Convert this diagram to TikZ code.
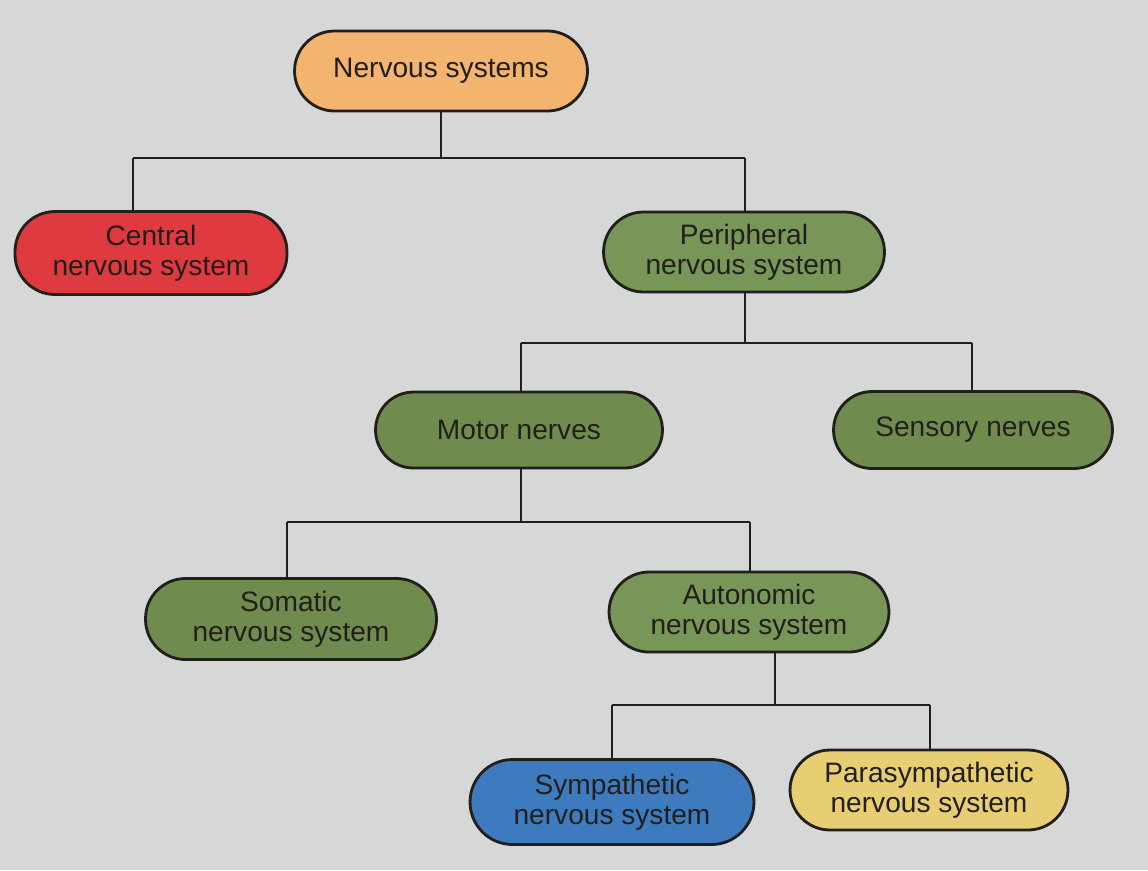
\documentclass[tikz,border=0pt]{standalone}
\usepackage{fontspec}
\setmainfont{Liberation Sans}
\definecolor{bg}{HTML}{D5D8D6}
\definecolor{orangebox}{HTML}{F2B46E}
\definecolor{redbox}{HTML}{DE3A40}
\definecolor{greenbox}{HTML}{6F8C4E}
\definecolor{greenlight}{HTML}{789657}
\definecolor{bluebox}{HTML}{3D7BBE}
\definecolor{yellowbox}{HTML}{E8CE72}
\definecolor{ink}{HTML}{221E1C}
\begin{document}
\begin{tikzpicture}[x=0.02cm,y=-0.02cm,
  pill/.style={draw=ink,line width=1.6pt,align=center,inner sep=0pt,
    font=\fontsize{16}{16.8}\selectfont,text=ink,
    minimum height=1.6cm,rounded corners=0.8cm},
  conn/.style={draw=ink,line width=1.3pt}]
\fill[bg] (0,0) rectangle (1148,870);
\useasboundingbox (0,0) rectangle (1148,870);
\node[pill,fill=orangebox,minimum width=5.86cm] (ns) at (441,71) {Nervous systems};
\node[pill,fill=redbox,minimum width=5.44cm,minimum height=1.66cm] (cns) at (151,253) {Central\\nervous system};
\node[pill,fill=greenlight,minimum width=5.62cm] (pns) at (744,252) {Peripheral\\nervous system};
\node[pill,fill=greenbox,minimum width=5.74cm,minimum height=1.52cm,rounded corners=0.76cm] (mot) at (519,430) {Motor nerves};
\node[pill,fill=greenbox,minimum width=5.58cm,minimum height=1.54cm,rounded corners=0.77cm] (sen) at (973,430) {Sensory nerves};
\node[pill,fill=greenbox,minimum width=5.82cm,minimum height=1.62cm] (som) at (291,619) {Somatic\\nervous system};
\node[pill,fill=greenlight,minimum width=5.6cm] (aut) at (749,612) {Autonomic\\nervous system};
\node[pill,fill=bluebox,minimum width=5.68cm,minimum height=1.7cm,rounded corners=0.85cm] (sym) at (612,802) {Sympathetic\\nervous system};
\node[pill,fill=yellowbox,minimum width=5.56cm] (par) at (929,790) {Parasympathetic\\nervous system};
% level 1
\coordinate (j1) at (441,158);
\coordinate (j1l) at (133,158);
\coordinate (j1r) at (745,158);
\draw[conn] (ns.south) -- (j1);
\draw[conn] (j1l) -- (j1r);
\draw[conn] (j1l) -- (j1l |- cns.north);
\draw[conn] (j1r) -- (j1r |- pns.north);
% level 2
\coordinate (j2) at (745,343);
\coordinate (j2l) at (521,343);
\coordinate (j2r) at (972,343);
\draw[conn] (j2 |- pns.south) -- (j2);
\draw[conn] (j2l) -- (j2r);
\draw[conn] (j2l) -- (j2l |- mot.north);
\draw[conn] (j2r) -- (j2r |- sen.north);
% level 3
\coordinate (j3) at (521,522);
\coordinate (j3l) at (287,522);
\coordinate (j3r) at (750,522);
\draw[conn] (j3 |- mot.south) -- (j3);
\draw[conn] (j3l) -- (j3r);
\draw[conn] (j3l) -- (j3l |- som.north);
\draw[conn] (j3r) -- (j3r |- aut.north);
% level 4
\coordinate (j4) at (775,705);
\coordinate (j4l) at (612,705);
\coordinate (j4r) at (930,705);
\draw[conn] (j4 |- aut.south) -- (j4);
\draw[conn] (j4l) -- (j4r);
\draw[conn] (j4l) -- (j4l |- sym.north);
\draw[conn] (j4r) -- (j4r |- par.north);
\end{tikzpicture}
\end{document}
